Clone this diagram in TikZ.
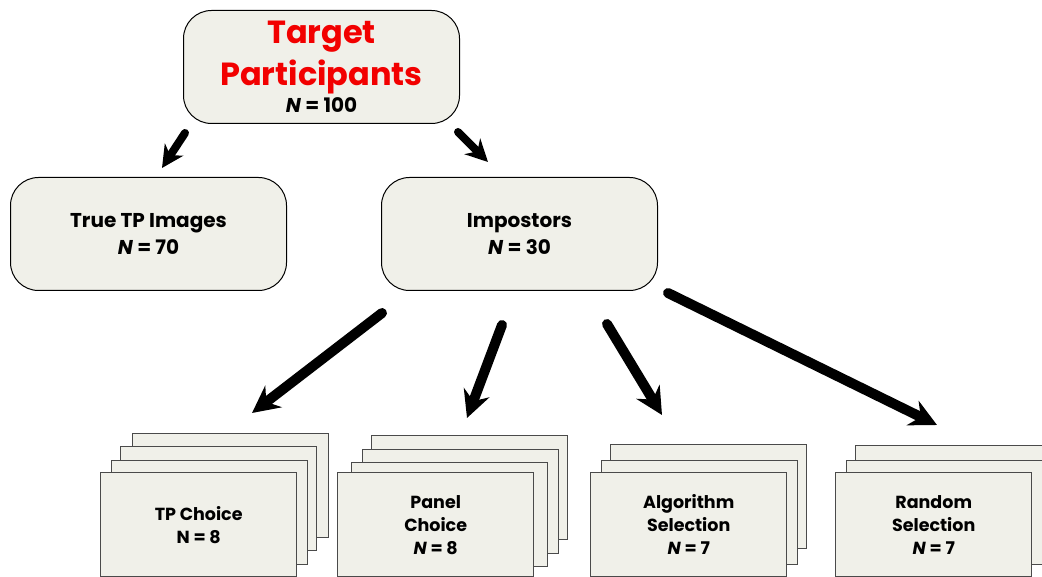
\documentclass[tikz,border=0pt]{standalone}
\usepackage{fontspec}
\setmainfont{Poppins}
\usetikzlibrary{arrows.meta}
\definecolor{boxfill}{HTML}{F0F0E9}
\definecolor{boxline}{HTML}{4A4A4A}
\definecolor{titlered}{HTML}{F20000}
\newcommand{\titlefont}{\color{titlered}\fontsize{32}{31}\selectfont}
\newcommand{\countfont}{\color{black}\fontsize{20}{31}\selectfont}

\begin{document}
\begin{tikzpicture}[x=1pt,y=-1pt,
  rbox/.style={draw=black, line width=1pt, fill=boxfill, rounded corners=28pt,
    minimum width=276pt, minimum height=113pt, inner sep=0pt, anchor=north west,
    align=center, font=\bfseries\fontsize{20}{27}\selectfont},
  card/.style={draw=boxline, line width=1.4pt, fill=boxfill, minimum width=196pt,
    minimum height=104pt, inner sep=0pt, anchor=north west},
  cardtext/.style={align=center, font=\bfseries\fontsize{17.5}{23}\selectfont},
  bigarrow/.style={line width=10pt, line cap=round, -{Stealth[length=27pt,width=27pt,inset=9pt]}},
  smallarrow/.style={line width=8pt, line cap=round, -{Stealth[length=22pt,width=22pt,inset=7pt]}}
]
\useasboundingbox (0,0) rectangle (1042,577);
\clip (0,0) rectangle (1042,577);

% top level
\node[rbox] (target) at (183,10) {\titlefont Target\\[7pt]\titlefont Participants\\\countfont\textit{N} = 100};
\node[rbox] (truetp) at (10,177) {True TP Images\\\textit{N} = 70};
\node[rbox] (imp) at (381,177) {Impostors\\\textit{N} = 30};

% stack: TP choice
\node[card] (s1c) at (132,433) {};
\node[card] (s1b) at (120,446) {};
\node[card] (s1a) at (111,460) {};
\node[card] (s1)  at (100,472) {};
\node[cardtext] (l1) at (s1.center) {TP Choice\\N = 8};

% stack: panel choice
\node[card] (s2c) at (371,435) {};
\node[card] (s2b) at (362,449) {};
\node[card] (s2a) at (351,462) {};
\node[card] (s2)  at (337,472) {};
\node[cardtext] (l2) at (s2.center) {Panel\\Choice\\\textit{N} = 8};

% stack: algorithm selection
\node[card] (s3b) at (610,444) {};
\node[card] (s3a) at (601,460) {};
\node[card] (s3)  at (590,472) {};
\node[cardtext] (l3) at (s3.center) {Algorithm\\Selection\\\textit{N} = 7};

% stack: random selection
\node[card] (s4b) at (855,445) {};
\node[card] (s4a) at (846,460) {};
\node[card] (s4)  at (835,472) {};
\node[cardtext] (l4) at (s4.center) {Random\\Selection\\\textit{N} = 7};

% arrow end points
\coordinate (t1) at (185,133);  \coordinate (h1) at (162,168);
\coordinate (t2) at (458,132);  \coordinate (h2) at (488,162);
\coordinate (t3) at (382,313);  \coordinate (h3) at (252,413);
\coordinate (t4) at (502,325);  \coordinate (h4) at (467,418);
\coordinate (t5) at (607,324);  \coordinate (h5) at (662,415);
\coordinate (t6) at (668,293);  \coordinate (h6) at (937,425);

\draw[smallarrow] (t1) -- (h1);
\draw[smallarrow] (t2) -- (h2);
\draw[bigarrow] (t3) -- (h3);
\draw[bigarrow] (t4) -- (h4);
\draw[bigarrow] (t5) -- (h5);
\draw[bigarrow] (t6) -- (h6);
\end{tikzpicture}
\end{document}
